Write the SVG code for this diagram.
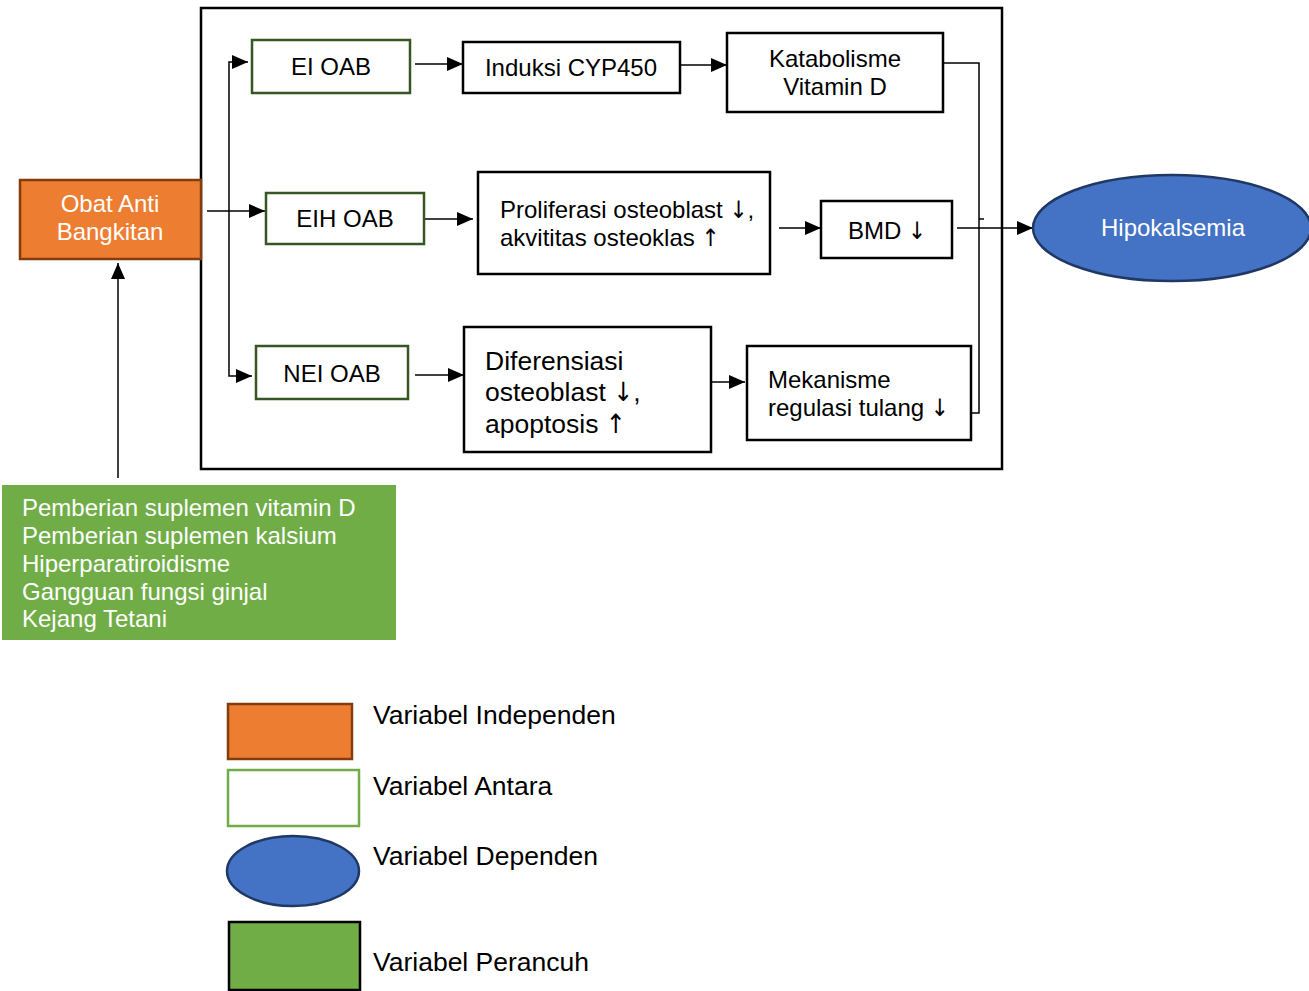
<svg xmlns="http://www.w3.org/2000/svg" width="1309" height="991" viewBox="0 0 1309 991">
<style>
text{font-family:"Liberation Sans",Arial,sans-serif;font-size:24px;fill:#000}
.w{fill:#fff}
.big{font-size:26.5px}
.c{text-anchor:middle}
.ar{font-family:"DejaVu Sans Condensed","DejaVu Sans",sans-serif;font-weight:200;fill:#000}
.box{fill:#fff;stroke:#000;stroke-width:2.5}
.mid{fill:#fff;stroke:#375623;stroke-width:2.5}
.ln{fill:none;stroke:#000;stroke-width:1.5}
</style>
<defs>
<marker id="ah" markerUnits="userSpaceOnUse" markerWidth="18" markerHeight="14" refX="16" refY="7" orient="auto">
<path d="M0,0 L16,7 L0,14 Z" fill="#000"/>
</marker>
</defs>
<rect width="1309" height="991" fill="#fff"/>
<rect id="frame" x="201" y="8" width="801" height="461" fill="none" stroke="#000" stroke-width="2.5"/>

<g id="connectors">
<path class="ln" d="M207,211 L265,211" marker-end="url(#ah)"/>
<path class="ln" d="M229,211 L229,62 L248,62" marker-end="url(#ah)"/>
<path class="ln" d="M229,211 L229,376 L252,376" marker-end="url(#ah)"/>
<path class="ln" d="M415,64 L463,64" marker-end="url(#ah)"/>
<path class="ln" d="M680,65 L727,65" marker-end="url(#ah)"/>
<path class="ln" d="M424,219 L473,219" marker-end="url(#ah)"/>
<path class="ln" d="M779,228 L821,228" marker-end="url(#ah)"/>
<path class="ln" d="M415,375 L464,375" marker-end="url(#ah)"/>
<path class="ln" d="M711,382 L745,382" marker-end="url(#ah)"/>
<path class="ln" d="M943,63 L979,63 L979,413 L972,413"/>
<path class="ln" d="M979,219 L984,219"/>
<path class="ln" d="M957,228 L1033,228" marker-end="url(#ah)"/>
<path class="ln" d="M118,478 L118,263" marker-end="url(#ah)"/>
</g>

<g id="obat">
<rect x="20" y="180" width="181" height="79" fill="#ED7D31" stroke="#843C0C" stroke-width="2.5"/>
<text class="w c" x="110" y="212">Obat Anti</text>
<text class="w c" x="110" y="240">Bangkitan</text>
</g>

<g id="ei">
<rect class="mid" x="252" y="40" width="158" height="53"/>
<text class="c" x="331" y="75">EI OAB</text>
</g>
<g id="induksi">
<rect class="box" x="463" y="42" width="217" height="51"/>
<text class="c" x="571" y="76">Induksi CYP450</text>
</g>
<g id="katabolisme">
<rect class="box" x="727" y="33" width="216" height="79"/>
<text class="c" x="835" y="67">Katabolisme</text>
<text class="c" x="835" y="95">Vitamin D</text>
</g>

<g id="eih">
<rect class="mid" x="266" y="193" width="158" height="51"/>
<text class="c" x="345" y="227">EIH OAB</text>
</g>
<g id="proliferasi">
<rect class="box" x="478" y="172" width="292" height="102"/>
<text x="500" y="218">Proliferasi osteoblast <tspan class="ar">↓</tspan>,</text>
<text x="500" y="246">akvititas osteoklas <tspan class="ar">↑</tspan></text>
</g>
<g id="bmd">
<rect class="box" x="821" y="201" width="131" height="57"/>
<text class="c" x="887" y="239">BMD <tspan class="ar">↓</tspan></text>
</g>

<g id="nei">
<rect class="mid" x="256" y="346" width="152" height="53"/>
<text class="c" x="332" y="382">NEI OAB</text>
</g>
<g id="diferensiasi">
<rect class="box" x="464" y="327" width="247" height="125"/>
<text class="big" x="485" y="370">Diferensiasi</text>
<text class="big" x="485" y="401">osteoblast <tspan class="ar">↓</tspan>,</text>
<text class="big" x="485" y="433">apoptosis <tspan class="ar">↑</tspan></text>
</g>
<g id="mekanisme">
<rect class="box" x="747" y="346" width="224" height="94"/>
<text x="768" y="388">Mekanisme</text>
<text x="768" y="416">regulasi tulang <tspan class="ar">↓</tspan></text>
</g>

<g id="hipokalsemia">
<ellipse cx="1172" cy="228" rx="139" ry="53" fill="#4472C4" stroke="#1F3864" stroke-width="2.5"/>
<text class="w c" x="1173" y="236">Hipokalsemia</text>
</g>

<g id="perancu">
<rect x="2" y="485" width="394" height="155" fill="#70AD47"/>
<text class="w" x="22" y="516">Pemberian suplemen vitamin D</text>
<text class="w" x="22" y="544">Pemberian suplemen kalsium</text>
<text class="w" x="22" y="572">Hiperparatiroidisme</text>
<text class="w" x="22" y="600">Gangguan fungsi ginjal</text>
<text class="w" x="22" y="627">Kejang Tetani</text>
</g>

<g id="legend">
<rect x="228" y="704" width="124" height="55" fill="#ED7D31" stroke="#843C0C" stroke-width="2.5"/>
<text class="big" x="373" y="724">Variabel Independen</text>
<rect x="228" y="770" width="131" height="56" fill="#fff" stroke="#70AD47" stroke-width="2.5"/>
<text class="big" x="373" y="795">Variabel Antara</text>
<ellipse cx="293" cy="871" rx="66" ry="35" fill="#4472C4" stroke="#1F3864" stroke-width="2.5"/>
<text class="big" x="373" y="865">Variabel Dependen</text>
<rect x="229" y="922" width="131" height="68" fill="#70AD47" stroke="#000" stroke-width="2.5"/>
<text class="big" x="373" y="971">Variabel Perancuh</text>
</g>
</svg>
